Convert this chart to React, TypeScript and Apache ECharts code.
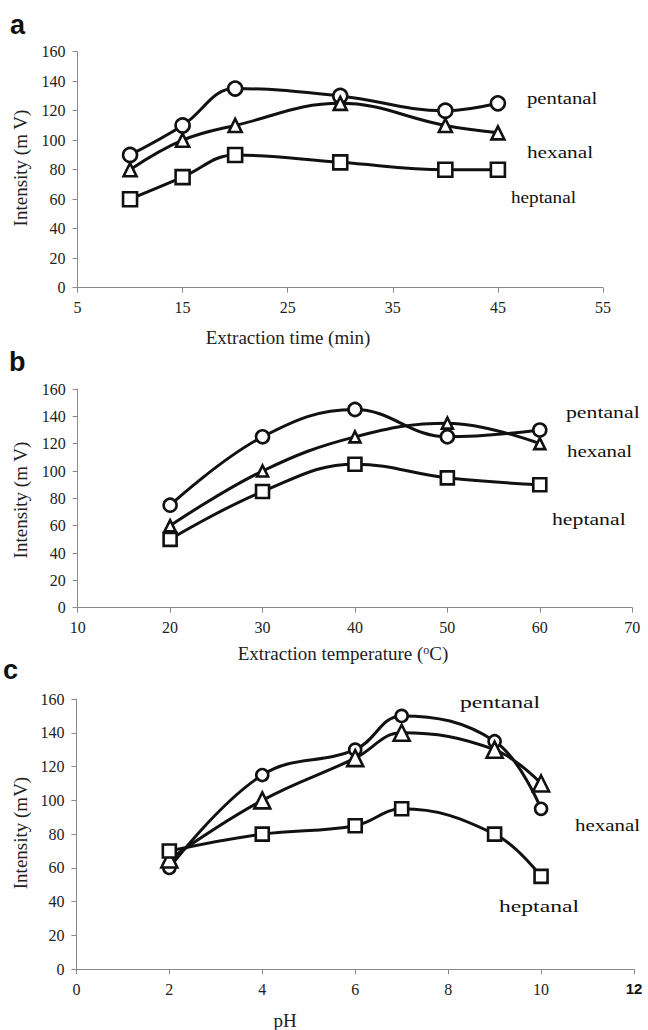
import React, { useEffect, useRef } from "react";
import * as echarts from "echarts";

// ---- data ----
const seriesNames = ["pentanal", "hexanal", "heptanal"];

const timeX = [10, 15, 20, 30, 40, 45];
const timePentanal = [90, 110, 135, 130, 120, 125];
const timeHexanal = [80, 100, 110, 125, 110, 105];
const timeHeptanal = [60, 75, 90, 85, 80, 80];

const tempX = [20, 30, 40, 50, 60];
const tempPentanal = [75, 125, 145, 125, 130];
const tempHexanal = [60, 100, 125, 135, 120];
const tempHeptanal = [50, 85, 105, 95, 90];

const phX = [2, 4, 6, 7, 9, 10];
const phPentanal = [60, 115, 130, 150, 135, 95];
const phHexanal = [65, 100, 125, 140, 130, 110];
const phHeptanal = [70, 80, 85, 95, 80, 55];

const timeTicks = [5, 15, 25, 35, 45, 55];
const tempTicks = [10, 20, 30, 40, 50, 60, 70];
const phTicks = [0, 2, 4, 6, 8, 10, 12];
const intensityTicks = [0, 20, 40, 60, 80, 100, 120, 140, 160];

const panelLetters = ["a", "b", "c"];
const xTitles = ["Extraction time (min)", "Extraction temperature ({sup|o}C)", "pH"];
const yTitles = ["Intensity (m V)", "Intensity (m V)", "Intensity (mV)"];

const SERIF_NAME = "Liberation Serif";
const SANS_NAME = "Liberation Sans";
const AXIS_GRAY = "#8a8a8a";
const INK = "#111111";

const zip = (xs: number[], ys: number[]) => xs.map((x, i) => [x, ys[i]]);

export default function App() {
  const ref = useRef<HTMLDivElement>(null);

  useEffect(() => {
    if (!ref.current) return;
    const chart = echarts.init(ref.current, null, { renderer: "svg" });

    const grids = [
      { left: 77.5, top: 51.7, width: 525.5, height: 236 },
      { left: 77.7, top: 389, width: 554.5, height: 218.7 },
      { left: 76.4, top: 699, width: 557.6, height: 270.3 },
    ].map((g) => ({ ...g, outerBoundsMode: "none", containLabel: false }));

    const axisLineCommon = {
      show: true,
      lineStyle: { color: AXIS_GRAY, width: 1 },
    };
    const tickCommon = {
      show: true,
      inside: false,
      length: 5,
      lineStyle: { color: AXIS_GRAY, width: 1 },
    };
    const labelCommon = {
      fontFamily: SERIF_NAME,
      fontSize: 16,
      color: "#222",
    };

    const xRanges = [
      { min: 5, max: 55, ticks: timeTicks },
      { min: 10, max: 70, ticks: tempTicks },
      { min: 0, max: 12, ticks: phTicks },
    ];

    const xAxis = xRanges.map((r, i) => ({
      type: "value",
      gridIndex: i,
      min: r.min,
      max: r.max,
      axisLine: { ...axisLineCommon, onZero: false },
      axisTick: { ...tickCommon, customValues: r.ticks },
      splitLine: { show: false },
      axisLabel: {
        ...labelCommon,
        margin: 12,
        customValues: r.ticks,
        formatter: (v: number) => (i === 2 && v === 12 ? "{b|12}" : "{s|" + v + "}"),
        rich: {
          s: { fontFamily: SERIF_NAME, fontSize: 16, color: "#222" },
          b: { fontFamily: SANS_NAME, fontWeight: "bold", fontSize: 15, color: INK },
        },
      },
    }));

    const yAxis = [0, 1, 2].map((i) => ({
      type: "value",
      gridIndex: i,
      min: intensityTicks[0],
      max: intensityTicks[intensityTicks.length - 1],
      interval: intensityTicks[1] - intensityTicks[0],
      axisLine: { ...axisLineCommon, onZero: false },
      axisTick: tickCommon,
      splitLine: { show: false },
      axisLabel: { ...labelCommon, margin: 12 },
    }));

    const panelData = [
      { x: timeX, ys: [timePentanal, timeHexanal, timeHeptanal], sizes: [14, 13, 14] },
      { x: tempX, ys: [tempPentanal, tempHexanal, tempHeptanal], sizes: [13, 11, 13] },
      { x: phX, ys: [phPentanal, phHexanal, phHeptanal], sizes: [12, 16, 13] },
    ];
    const symbols = ["circle", "triangle", "rect"];

    const series: any[] = [];
    panelData.forEach((p, pi) => {
      p.ys.forEach((ys, si) => {
        series.push({
          type: "line",
          name: seriesNames[si] + "-" + pi,
          xAxisIndex: pi,
          yAxisIndex: pi,
          data: zip(p.x, ys),
          smooth: 0.4,
          symbol: symbols[si],
          symbolSize: p.sizes[si],
          showSymbol: true,
          lineStyle: { color: INK, width: 3 },
          itemStyle: { color: "#ffffff", borderColor: INK, borderWidth: 2.6 },
          emphasis: { disabled: true },
          z: 2 + si,
        });
      });
    });

    // label placements (left x, center y, horizontal stretch)
    const seriesLabelPos = [
      [[527, 98, 1.22], [527, 152, 1.25], [511, 197, 1.13]],
      [[566, 412, 1.28], [567, 451, 1.23], [552, 519, 1.28]],
      [[460, 702, 1.39], [575, 825, 1.23], [499, 906, 1.39]],
    ];

    const graphics: any[] = [];
    const letterPos = [
      [10, 25],
      [9, 362],
      [3, 670],
    ];
    panelLetters.forEach((l, i) => {
      graphics.push({
        type: "text",
        x: letterPos[i][0],
        y: letterPos[i][1],
        style: {
          text: l,
          fontFamily: SANS_NAME,
          fontWeight: "bold",
          fontSize: 27,
          fill: INK,
          align: "left",
          verticalAlign: "middle",
        },
      });
    });

    seriesLabelPos.forEach((panel) => {
      panel.forEach((pos, si) => {
        graphics.push({
          type: "text",
          x: pos[0],
          y: pos[1],
          scaleX: pos[2],
          style: {
            text: seriesNames[si],
            fontFamily: SERIF_NAME,
            fontSize: 17,
            fill: INK,
            align: "left",
            verticalAlign: "middle",
          },
        });
      });
    });

    const xTitlePos = [
      [288, 337],
      [343, 653],
      [285, 1020],
    ];
    xTitles.forEach((t, i) => {
      graphics.push({
        type: "text",
        x: xTitlePos[i][0],
        y: xTitlePos[i][1],
        style: {
          text: t,
          fontFamily: SERIF_NAME,
          fontSize: 19,
          fill: "#222",
          align: "center",
          verticalAlign: "middle",
          rich: {
            sup: { fontFamily: SERIF_NAME, fontSize: 12, verticalAlign: "top", lineHeight: 12, padding: [0, 0, 10, 0] },
          },
        },
      });
    });

    const yTitlePos = [
      [20.7, 168],
      [20.7, 500],
      [20.5, 833],
    ];
    yTitles.forEach((t, i) => {
      graphics.push({
        type: "text",
        x: yTitlePos[i][0],
        y: yTitlePos[i][1],
        rotation: Math.PI / 2,
        style: {
          text: t,
          fontFamily: SERIF_NAME,
          fontSize: 19,
          fill: "#222",
          align: "center",
          verticalAlign: "middle",
        },
      });
    });

    chart.setOption({
      animation: false,
      backgroundColor: "#ffffff",
      textStyle: { fontFamily: SERIF_NAME },
      grid: grids,
      xAxis,
      yAxis,
      series,
      graphic: graphics,
    } as any);

    return () => chart.dispose();
  }, []);

  return (
    <div
      ref={ref}
      style={{ position: "fixed", left: 0, top: 0, width: 648, height: 1030, background: "#fff" }}
    />
  );
}
